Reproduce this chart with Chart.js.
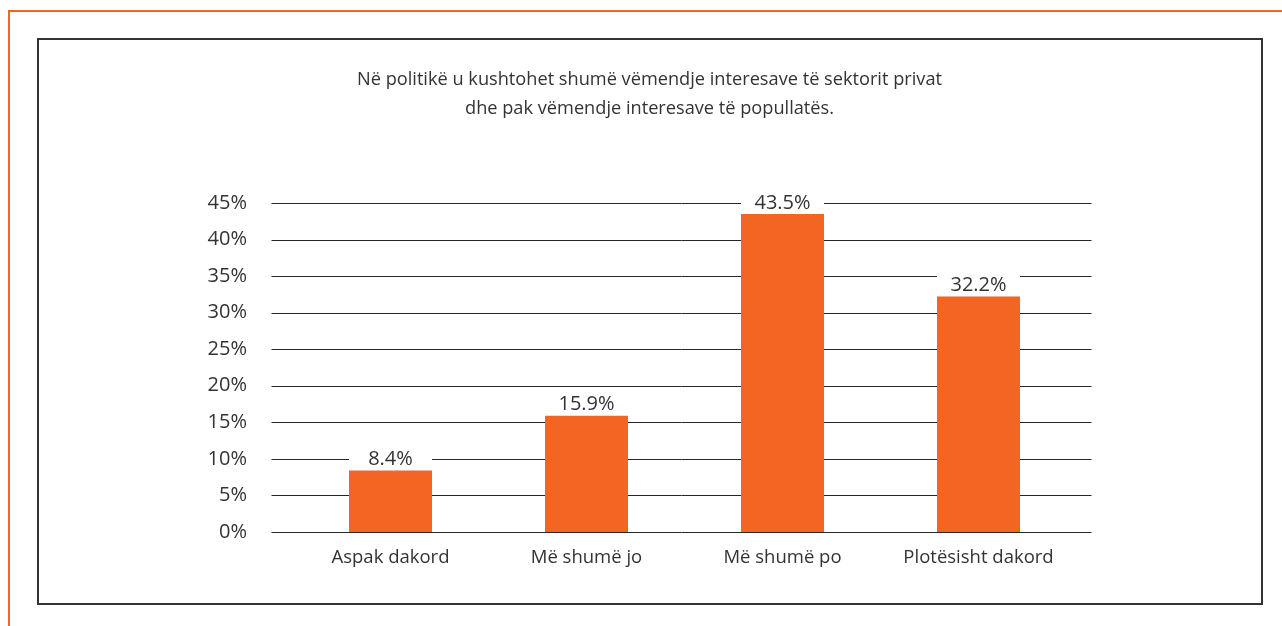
<!DOCTYPE html>
<html>
<head>
<meta charset="utf-8">
<script src="https://cdn.jsdelivr.net/npm/chart.js@4/dist/chart.umd.min.js"></script>
<style>
  html, body { margin: 0; padding: 0; background: #fff; width: 1282px; height: 626px; overflow: hidden; }
  #orange { position: absolute; left: 8px; top: 10px; width: 1290px; height: 640px; border-top: 2px solid #F26522; border-left: 2px solid #F26522; box-sizing: border-box; }
  #box { position: absolute; left: 37px; top: 38px; width: 1226px; height: 567px; border: 2px solid #333; box-sizing: border-box; }
  #wrap { position: absolute; left: 39px; top: 40px; width: 1221px; height: 562px; }
</style>
</head>
<body>
<div id="orange"></div>
<div id="box"></div>
<div id="wrap"><canvas id="c" width="1221" height="562"></canvas></div>
<script>
const titleLines = ["Në politikë u kushtohet shumë vëmendje interesave të sektorit privat", "dhe pak vëmendje interesave të popullatës."];
const categories = ["Aspak dakord", "Më shumë jo", "Më shumë po", "Plotësisht dakord"];
const values = [8.4, 15.9, 43.5, 32.2];
const valueLabels = ["8.4%", "15.9%", "43.5%", "32.2%"];
const yTicks = [0, 5, 10, 15, 20, 25, 30, 35, 40, 45];

const FONT = "'Open Sans', sans-serif";
const TXT = "#333333";

const titlePlugin = {
  id: "centeredTitle",
  afterDraw(chart) {
    const { ctx } = chart;
    ctx.save();
    ctx.font = "18.2px " + FONT;
    ctx.fillStyle = TXT;
    ctx.textAlign = "center";
    ctx.textBaseline = "middle";
    titleLines.forEach((t, i) => ctx.fillText(t, chart.width / 2, 40 + i * 29));
    ctx.restore();
  }
};

const gridPlugin = {
  id: "extGrid",
  beforeDatasetsDraw(chart) {
    const { ctx, chartArea, scales } = chart;
    ctx.save();
    ctx.strokeStyle = "#262626";
    ctx.lineWidth = 1;
    scales.y.ticks.forEach(t => {
      const y = Math.round(scales.y.getPixelForValue(t.value)) + 0.5;
      ctx.beginPath();
      ctx.moveTo(chartArea.left - 21, y);
      ctx.lineTo(chartArea.right + 15, y);
      ctx.stroke();
    });
    ctx.restore();
  }
};

const labelPlugin = {
  id: "valLabels",
  afterDatasetsDraw(chart) {
    const { ctx } = chart;
    const meta = chart.getDatasetMeta(0);
    ctx.save();
    ctx.font = "20px " + FONT;
    ctx.textAlign = "center";
    ctx.textBaseline = "middle";
    meta.data.forEach((bar, i) => {
      const cy = bar.y - 11;
      ctx.fillStyle = "#fff";
      ctx.fillRect(bar.x - bar.width / 2, cy - 10, bar.width, 19);
      ctx.fillStyle = TXT;
      ctx.fillText(valueLabels[i], bar.x, cy);
    });
    ctx.restore();
  }
};

new Chart(document.getElementById("c"), {
  type: "bar",
  data: {
    labels: categories,
    datasets: [{ data: values, backgroundColor: "#F26522", borderWidth: 0, barPercentage: 0.4235, categoryPercentage: 1 }]
  },
  options: {
    responsive: false,
    animation: false,
    devicePixelRatio: 1,
    layout: { padding: { left: 0, right: 183.5, top: 163, bottom: 0 } },
    plugins: {
      legend: { display: false },
      tooltip: { enabled: false },
      title: { display: false }
    },
    scales: {
      x: {
        grid: { display: false, drawTicks: false },
        border: { display: false },
        ticks: { color: TXT, font: { family: FONT, size: 18.5 }, padding: 15, maxRotation: 0 },
        afterFit(s) { s.height = 70; }
      },
      y: {
        min: 0, max: 45,
        afterBuildTicks(s) { s.ticks = yTicks.map(v => ({ value: v })); },
        grid: { display: false, drawTicks: false },
        border: { display: false },
        ticks: { color: TXT, font: { family: FONT, size: 20 }, padding: 45.5, callback: v => v + "%" },
        afterFit(s) { s.width = 253.5; }
      }
    }
  },
  plugins: [gridPlugin, labelPlugin, titlePlugin]
});
</script>
</body>
</html>
